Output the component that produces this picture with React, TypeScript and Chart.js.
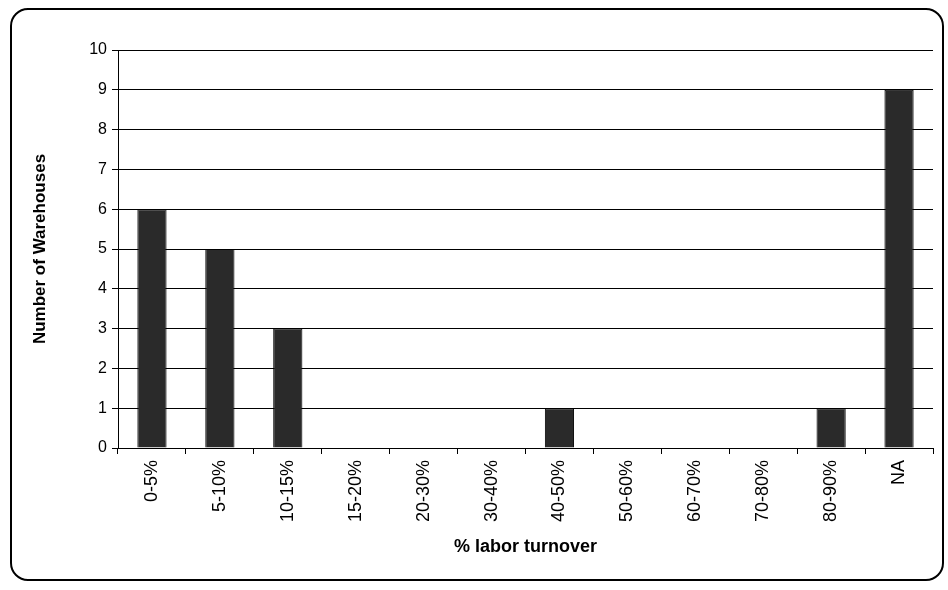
import React, { useEffect, useRef } from "react";
import { Chart, registerables } from "chart.js";

Chart.register(...registerables);

const categories = ["0-5%", "5-10%", "10-15%", "15-20%", "20-30%", "30-40%", "40-50%", "50-60%", "60-70%", "70-80%", "80-90%", "NA"];
const warehouses = [6, 5, 3, 0, 0, 0, 1, 0, 0, 0, 1, 9];
const yTicks = [0, 1, 2, 3, 4, 5, 6, 7, 8, 9, 10];

export default function App() {
  const ref = useRef<HTMLCanvasElement | null>(null);

  useEffect(() => {
    if (!ref.current) return;
    const font = "'Liberation Sans', Arial, sans-serif";
    const chart = new Chart(ref.current, {
      type: "bar",
      data: {
        labels: categories,
        datasets: [
          {
            label: "Number of Warehouses",
            data: warehouses,
            backgroundColor: "#2a2a2a",
            borderColor: "#000",
            borderWidth: 1,
            categoryPercentage: 1,
            barPercentage: 0.43,
          },
        ],
      },
      options: {
        responsive: false,
        animation: false,
        devicePixelRatio: 1,
        layout: { padding: { left: 10, right: 15, top: 50, bottom: 20 } },
        plugins: { legend: { display: false }, tooltip: { enabled: false } },
        scales: {
          x: {
            grid: { drawOnChartArea: false, drawTicks: true, tickLength: 6, color: "#000", offset: true },
            border: { color: "#000", width: 1 },
            ticks: {
              color: "#000",
              font: { family: font, size: 18 },
              minRotation: 90,
              maxRotation: 90,
              autoSkip: false,
              padding: 6,
            },
            title: {
              display: true,
              text: "% labor turnover",
              color: "#000",
              font: { family: font, size: 18, weight: "bold" },
              padding: { top: 0, bottom: 12 },
            },
            afterFit: (s: any) => {
              s.height = 122;
            },
          },
          y: {
            min: 0,
            max: 10,
            afterBuildTicks: (s: any) => {
              s.ticks = yTicks.map((v) => ({ value: v }));
            },
            grid: { color: "#000", lineWidth: 1, tickLength: 6, drawTicks: true },
            border: { color: "#000", width: 1 },
            ticks: {
              color: "#000",
              font: { family: font, size: 16 },
              padding: 5,
            },
            title: {
              display: true,
              text: "Number of Warehouses",
              color: "#000",
              font: { family: font, size: 17, weight: "bold" },
              padding: { top: 20, bottom: 0 },
            },
            afterFit: (s: any) => {
              s.width = 108;
            },
          },
        },
      },
    });
    return () => chart.destroy();
  }, []);

  return (
    <div style={{ position: "absolute", left: 0, top: 0, width: 948, height: 590, background: "#fff" }}>
      <div
        style={{
          position: "absolute",
          left: 10,
          top: 8,
          width: 934,
          height: 573,
          border: "2px solid #000",
          borderRadius: 18,
          boxSizing: "border-box",
        }}
      />
      <canvas ref={ref} width={948} height={590} style={{ position: "absolute", left: 0, top: 0 }} />
    </div>
  );
}
